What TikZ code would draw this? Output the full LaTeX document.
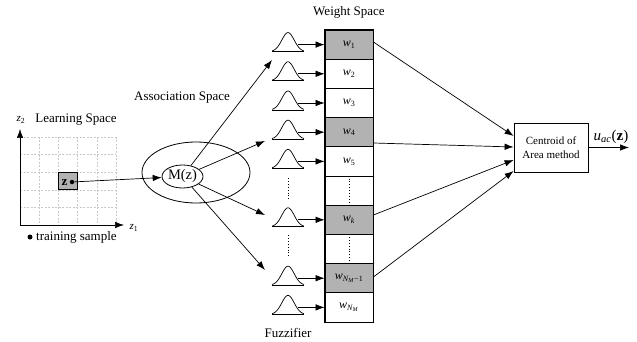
\documentclass[tikz,border=0pt]{standalone}
\usepackage{fontspec}
\setmainfont{Liberation Serif}
\usetikzlibrary{arrows.meta,shapes.geometric}
\definecolor{cellgray}{RGB}{178,178,178}
\definecolor{gridgray}{RGB}{200,200,200}

\begin{document}
\begin{tikzpicture}[x=1pt,y=-1pt,
  every node/.style={font=\fontsize{13}{15}\selectfont, inner sep=0pt},
  conn/.style={line width=0.7pt, -{Latex[length=9pt,width=6.5pt]}},
  cell/.style={draw, line width=0.8pt, minimum width=48pt, minimum height=29.2pt,
               font=\fontsize{12}{14}\selectfont},
  shaded/.style={cell, fill=cellgray},
  bellpath/.style={line width=0.7pt},
  dotline/.style={line width=0.9pt, dotted},
  gridline/.style={gridgray, line width=0.5pt, dash pattern=on 2pt off 1.5pt}
]
\useasboundingbox (0,0) rectangle (637,342);

% ---------- learning space ----------
\foreach \gx in {39.2,58.4,77.6,96.8,116}
  \draw[gridline] (\gx,137) -- (\gx,225);
\foreach \gy in {137,154.6,172.2,189.8,207.4}
  \draw[gridline] (20,\gy) -- (116,\gy);
\coordinate (O) at (20,225);
\coordinate (ytop) at (20,129);
\coordinate (xend) at (124,225);
\draw[conn] (O) -- (ytop);
\draw[conn] (O) -- (xend);
\node (zlab2) at (21,120) {\fontsize{11}{13}\selectfont\textit{z}\textsubscript{2}};
\node (zlab1) at (134,228) {\fontsize{11}{13}\selectfont\textit{z}\textsubscript{1}};
\node (lspace) at (76,120) {Learning Space};
\node[draw, fill=cellgray, line width=0.8pt, minimum width=19.2pt, minimum height=17.6pt] (zbox) at (68,181) {};
\node (zname) at (64.5,182.5) {\textbf{z}};
\node[circle, fill, minimum size=4.5pt] (dot) at (72,182) {};
\node[circle, fill, minimum size=5pt] (tdot) at (30,237) {};
\node[anchor=west] (train) at (36,237) {training sample};

% ---------- association space ----------
\node (aspace) at (182,98) {Association Space};
\node[draw, ellipse, line width=0.8pt, minimum width=108pt, minimum height=61pt] (assoc) at (196,172.5) {};
\node[draw, ellipse, line width=0.8pt, minimum width=33pt, minimum height=23pt,
      font=\fontsize{14.5}{16}\selectfont] (mz) at (182.5,176.5) {M(z)};
\draw[conn] (dot) -- (mz);

% ---------- weight space ----------
\node (wspace) at (349,12) {Weight Space};
\node[shaded] (r1)  at (349,44.6)  {\textit{w}\textsubscript{1}};
\node[cell]   (r2)  at (349,73.8)  {\textit{w}\textsubscript{2}};
\node[cell]   (r3)  at (349,103)   {\textit{w}\textsubscript{3}};
\node[shaded] (r4)  at (349,132.2) {\textit{w}\textsubscript{4}};
\node[cell]   (r5)  at (349,161.4) {\textit{w}\textsubscript{5}};
\node[cell]   (r6)  at (349,190.6) {};
\node[shaded] (r7)  at (349,219.8) {\textit{w}\textsubscript{\textit{k}}};
\node[cell]   (r8)  at (349,249)   {};
\node[shaded] (r9)  at (349,278.2) {\textit{w}\textsubscript{\textit{N}\textsubscript{\textit{M}}−1}};
\node[cell]   (r10) at (349,307.4) {\textit{w}\textsubscript{\textit{N}\textsubscript{\textit{M}}}};
\draw[line width=1.2pt] (r1.north west) rectangle (r10.south east);
\draw[dotline] (r6.north) -- (r6.south);
\draw[dotline] (r8.north) -- (r8.south);

% ---------- fuzzifier ----------
\foreach \i/\yc in {1/44.6,2/73.8,3/103,4/132.2,5/161.4,7/219.8,9/278.2,10/307.4} {
  \coordinate (g\i) at (288,\yc);
  \draw[bellpath] (272,\yc+7) -- (304,\yc+7);
  \draw[bellpath] plot[domain=-16:16, samples=45, smooth]
        ({288+\x}, {\yc+7-19*exp(-(\x*\x)/(2*6.2*6.2))});
  \draw[conn] ([xshift=10pt]g\i) -- (r\i.west);
}
\draw[dotline] (288,178) -- (288,199);
\draw[dotline] (288,235) -- (288,258);
\node (fuzz) at (288,333) {Fuzzifier};

\draw[conn] (mz) -- ([xshift=-16pt,yshift=-15.4pt]g1);
\draw[conn] (mz) -- ([xshift=-23pt,yshift=-8.8pt]g4);
\draw[conn] (mz) -- ([xshift=-23pt,yshift=4.8pt]g7);
\draw[conn] (mz) -- ([xshift=-23pt,yshift=8.2pt]g9);

% ---------- defuzzifier ----------
\node[draw, line width=0.8pt, minimum width=74pt, minimum height=49pt, align=center,
      font=\fontsize{11}{14}\selectfont] (cent) at (551,147.5) {Centroid of\\Area method};
\draw[conn] ([yshift=2.6pt]r1.east)  -- ([yshift=11.5pt]cent.west);
\draw[conn] ([yshift=-10.8pt]r4.east) -- ([yshift=0.5pt]cent.west);
\draw[conn] ([yshift=4.8pt]r7.east)  -- ([yshift=-12.5pt]cent.west);
\draw[conn] ([yshift=1.2pt]r9.east)  -- ([yshift=-23.5pt]cent.west);
\coordinate (outp) at (629,147.5);
\draw[conn] (cent.east) -- (outp);
\node (ulab) at (611,137) {\fontsize{15}{17}\selectfont\textit{u}\textsubscript{\textit{ac}}(\textbf{z})};
\end{tikzpicture}
\end{document}
